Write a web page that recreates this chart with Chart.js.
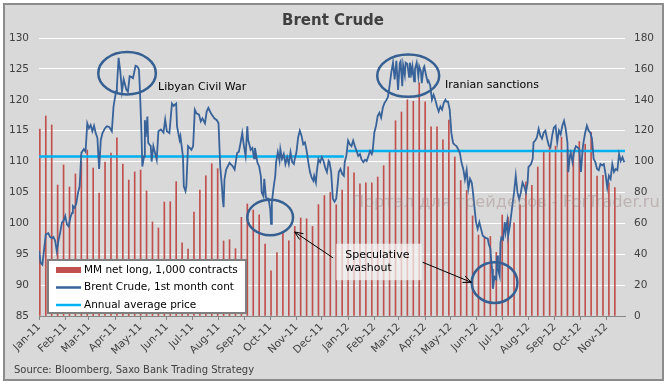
<!DOCTYPE html>
<html>
<head>
<meta charset="utf-8">
<title>Brent Crude</title>
<script src="https://cdn.jsdelivr.net/npm/chart.js@4.4.1/dist/chart.umd.min.js"></script>
<style>
  html, body { margin: 0; padding: 0; background: #fff; }
  #wrap { width: 667px; height: 384px; }
</style>
</head>
<body>
<div id="wrap"><canvas id="brentChart" width="667" height="384"></canvas></div>
<script>
// --- DATA (x values are days since 1 Jan 2011) ---
const monthLabels = ["Jan-11", "Feb-11", "Mar-11", "Apr-11", "May-11", "Jun-11", "Jul-11", "Aug-11",
  "Sep-11", "Oct-11", "Nov-11", "Dec-11", "Jan-12", "Feb-12", "Mar-12", "Apr-12", "May-12", "Jun-12",
  "Jul-12", "Aug-12", "Sep-12", "Oct-12", "Nov-12"];
const monthDays = [0, 31, 59, 90, 120, 151, 181, 212, 243, 273, 304, 334,
  365, 396, 425, 456, 486, 517, 547, 578, 609, 639, 670];

// MM net long, 1,000 contracts (weekly)
const netLongFirstDay = 1;
const netLong = [
  121, 129.5, 123.7, 84.8, 97.8, 83.5, 92, 100, 107.5, 95.8,
  79.6, 99.7, 105.5, 115.3, 98.4, 88, 93.3, 94.5, 81, 60.9,
  57, 73.8, 74, 87, 47.3, 43.4, 67.3, 81.6, 90.8, 98.6,
  95.4, 48.6, 49.4, 43.6, 63.9, 72.5, 68.6, 65.5, 46.6, 29.2,
  41, 54.2, 48.7, 58, 63.5, 63, 58, 72.1, 78, 80,
  72, 81.6, 96.6, 92.7, 85.6, 86.3, 86.2, 90, 97.3, 106.4,
  126.4, 132.1, 140, 139, 151, 138.7, 122.5, 122.5, 114, 126.9,
  103, 87.7, 81.3, 64.8, 52.4, 51.2, 51.5, 41.2, 65.4, 64.1,
  60.4, 72, 86.8, 84.6, 96.5, 106.5, 110.2, 110, 115.8, 107.9,
  106.8, 113, 111.2, 118.9, 90.6, 91.1, 86.3, 83.1
];

// Brent Crude, 1st month cont
const brentDays = [
  0, 2, 4, 6, 8, 11, 13, 15, 17, 19,
  21, 23, 25, 27, 29, 31, 33, 35, 37, 39,
  40, 42, 44, 46, 48, 50, 53, 55, 57, 59,
  61, 63, 65, 67, 69, 71, 73, 75, 78, 80,
  83, 86, 88, 91, 92, 94, 96, 98, 100, 103,
  105, 107, 109, 111, 114, 116, 118, 119, 121, 122,
  124, 125, 126, 128, 129, 132, 133, 135, 137, 139,
  141, 144, 147, 149, 151, 154, 157, 159, 162, 163,
  166, 167, 170, 171, 173, 174, 176, 178, 180, 182,
  184, 186, 189, 191, 193, 196, 198, 200, 203, 204,
  207, 210, 212, 214, 216, 217, 218, 219, 221, 225,
  229, 231, 234, 236, 238, 240, 242, 244, 246, 247,
  250, 252, 254, 255, 258, 260, 262, 263, 265, 266,
  268, 269, 271, 273, 274, 275, 277, 279, 280, 282,
  284, 285, 287, 289, 291, 293, 295, 297, 299, 301,
  302, 304, 306, 308, 310, 312, 314, 316, 318, 320,
  322, 324, 325, 327, 328, 330, 332, 334, 336, 338,
  340, 342, 343, 345, 347, 349, 351, 353, 354, 356,
  358, 360, 361, 363, 365, 367, 369, 371, 373, 375,
  377, 379, 381, 383, 385, 387, 389, 391, 393, 394,
  396, 398, 400, 402, 404, 406, 408, 410, 412, 414,
  416, 418, 420, 422, 424, 426, 427, 429, 430, 432,
  433, 435, 437, 438, 440, 441, 443, 444, 446, 448,
  449, 451, 452, 454, 455, 457, 459, 460, 462, 464,
  466, 468, 470, 472, 474, 476, 478, 480, 481, 483,
  485, 487, 489, 491, 493, 495, 497, 499, 501, 503,
  505, 507, 509, 511, 512, 514, 516, 518, 520, 522,
  524, 526, 528, 530, 531, 533, 534, 535, 536, 537,
  538, 540, 541, 542, 544, 545, 546, 548, 550, 551,
  553, 554, 556, 557, 559, 561, 563, 565, 567, 569,
  571, 573, 575, 577, 578, 581, 583, 584, 586, 588,
  590, 592, 594, 596, 598, 600, 602, 604, 606, 608,
  610, 612, 614, 616, 618, 620, 622, 624, 625, 627,
  628, 630, 632, 634, 636, 638, 640, 642, 643, 645,
  647, 649, 651, 653, 655, 657, 659, 661, 663, 665,
  667, 669, 671, 673, 675, 677, 679, 681, 683, 685,
  687, 689, 691
];
const brentPrice = [
  95.5, 93.6, 93.3, 95.8, 98.2, 98.4, 97.8, 97.6, 97.8, 97.2,
  95.5, 97.2, 98.5, 100.1, 100.4, 101.2, 99.8, 99.5, 100.9, 101.7,
  102.8, 102.5, 103.2, 104.9, 106, 111.4, 112, 111.6, 116.2, 115.4,
  115.9, 114.9, 115.8, 114.6, 113.8, 108.8, 113.5, 114.6, 115.4, 115.7,
  115.6, 114.9, 118.9, 121.4, 122.1, 126.8, 124.6, 121.4, 123.3, 121.7,
  121.3, 123.8, 123.7, 123.5, 125.5, 125.4, 124.9, 122.2, 114.6, 109.2,
  110.8, 116.7, 114, 117.3, 113, 112.5, 110, 112.5, 111.4, 110.3,
  114.9, 115.2, 114.7, 116.8, 114.9, 114.6, 119.4, 119, 119.4, 115.7,
  113.5, 114.1, 110.8, 106, 105.2, 106, 112.5, 112.2, 111.9, 112.5,
  118.4, 117.8, 117.6, 116.5, 117, 116.2, 118.1, 118.7, 117.8, 117.6,
  117, 116.7, 116.2, 109.2, 106, 103.8, 102.6, 107.1, 108.7, 109.8,
  109.2, 108.7, 111.4, 111.6, 113, 114.6, 112.5, 110.9, 115.7, 113.5,
  111.9, 112.2, 110.5, 112.2, 109.8, 109.2, 107.6, 105, 104.4, 107.2,
  104.2, 104, 104, 102.4, 99.9, 103.4, 105.8, 107.7, 109.9, 111.5,
  110.1, 112, 110.4, 111.2, 109.6, 110.7, 109.6, 111.5, 109.9, 109.6,
  110.4, 111.5, 113.9, 115, 114.2, 112.8, 113.1, 111.8, 109.9, 108.3,
  107.4, 106.9, 107.7, 106.6, 108.3, 110.4, 109.9, 110.7, 110.1, 109,
  108.3, 110.1, 109.9, 108.3, 104, 103.5, 104, 106.7, 108.3, 108.8,
  108, 107.7, 109.9, 111, 113.4, 112.8, 112.5, 113.4, 112.5, 111.7,
  110.9, 111.2, 110.3, 109.9, 110.3, 110.1, 110.9, 111.7, 111.2, 111.7,
  114.7, 115.8, 117.4, 117.9, 117.1, 118.7, 119.5, 119.9, 120.4, 122.3,
  124.4, 126, 123.3, 126.3, 121.6, 125.9, 126.2, 122.2, 125.6, 124,
  126, 125.8, 123.7, 126, 124.4, 125.4, 123, 125, 126, 123.8,
  125.4, 124.6, 122.7, 125.1, 125.4, 124, 122.9, 123.1, 122.3, 120,
  120.8, 120, 118.9, 118.1, 118.9, 118.4, 119.5, 120, 119.7, 119.7,
  118.4, 114.6, 113, 112.7, 112.5, 112, 111.4, 109.8, 108.8, 107.1,
  108.6, 105.6, 107.2, 106.6, 105.6, 102.9, 100.2, 99.1, 100.2, 99.1,
  98, 97.8, 97.6, 97.5, 96.7, 95.9, 94, 92.6, 89.4, 90.5,
  91.3, 91, 94.8, 92.6, 91.5, 96.9, 97.7, 97.4, 100.2, 98.6,
  100.4, 98, 99.6, 100.7, 102.9, 105, 107.7, 105, 103.9, 105,
  106.6, 106, 105, 106.6, 109.1, 109.6, 110.4, 113.1, 113.4, 113.9,
  115.3, 114.2, 113.7, 114.7, 115, 113.7, 112.6, 112.3, 114.2, 115.5,
  115.8, 113.1, 115, 114.4, 115.8, 116.6, 115.3, 113.1, 108.3, 110.9,
  111.4, 109.9, 111.7, 112.5, 112.3, 112, 108.3, 112, 113.1, 114.7,
  115.8, 115, 114.7, 113.7, 110.4, 109.9, 108.8, 108.6, 109.6, 109.4,
  109.6, 108, 105.8, 107.7, 107.2, 109.6, 108.3, 108.8, 108.6, 111.2,
  110.1, 110.7, 109.9
];

// Annual average price
const avgYearStart = [0, 365];
const avgYearEnd = [360, 692];
const avgYearPrice = [110.8, 111.7];

// --- CALLOUTS (in data units) ---
const callouts = {
  ellipses: [
    { day: 104, price: 124.3, rxDays: 34, ryPrice: 3.45 },
    { day: 436, price: 123.9, rxDays: 36.6, ryPrice: 3.43 },
    { day: 273, price: 100.95, rxDays: 27, ryPrice: 2.88 },
    { day: 538, price: 90.4, rxDays: 27, ryPrice: 3.29 }
  ],
  labels: [
    { text: "Libyan Civil War", day: 140.6, price: 122.1 },
    { text: "Iranian sanctions", day: 479.4, price: 122.3 }
  ],
  washout: { day0: 351, day1: 452, top: 96.7, bottom: 90.8, lines: ["Speculative", "washout"] },
  arrows: [
    { fromDay: 347.3, fromPrice: 94.4, toDay: 301.9, toPrice: 98.6 },
    { fromDay: 453, fromPrice: 93.7, toDay: 510.6, toPrice: 90.45 }
  ]
};

const FONT = "'DejaVu Sans', Verdana, sans-serif";
const TEXT_GREY = "#404040";
const BAR_RED = "#c0504d";
const LINE_BLUE = "#37629a";
const AVG_CYAN = "#00b0f0";

const brentPoints = brentDays.map((d, i) => ({ x: d, y: brentPrice[i] }));
const netLongPoints = netLong.map((v, i) => ({ x: netLongFirstDay + 7 * i, y: v }));
const avgPoints = [];
avgYearPrice.forEach((p, i) => {
  avgPoints.push({ x: avgYearStart[i], y: p }, { x: avgYearEnd[i], y: p });
  if (i < avgYearPrice.length - 1) avgPoints.push({ x: avgYearEnd[i] + 1, y: null });
});

// --- BACKGROUND, TITLE, LEGEND, CALLOUTS ---
function drawArrow(c, x1, y1, x2, y2) {
  const a = Math.atan2(y2 - y1, x2 - x1);
  c.beginPath();
  c.moveTo(x1, y1);
  c.lineTo(x2, y2);
  c.moveTo(x2 - 9 * Math.cos(a - 0.4), y2 - 9 * Math.sin(a - 0.4));
  c.lineTo(x2, y2);
  c.lineTo(x2 - 9 * Math.cos(a + 0.4), y2 - 9 * Math.sin(a + 0.4));
  c.stroke();
}

const legendOrder = ["MM net long, 1,000 contracts", "Brent Crude, 1st month cont", "Annual average price"];

const decorPlugin = {
  id: "decor",
  beforeDraw(chart) {
    const c = chart.ctx;
    c.save();
    c.fillStyle = "#ffffff";
    c.fillRect(0, 0, chart.width, chart.height);
    c.fillStyle = "#d9d9d9";
    c.fillRect(4, 4, 659, 376);
    c.strokeStyle = "#8c8c8c";
    c.lineWidth = 2;
    c.strokeRect(4, 4, 659, 376);
    c.restore();
  },
  afterDraw(chart) {
    const c = chart.ctx;
    const xs = chart.scales.x, ys = chart.scales.y;
    const area = chart.chartArea;
    c.save();

    // title
    c.fillStyle = TEXT_GREY;
    c.font = "bold 15px " + FONT;
    c.textAlign = "center";
    c.textBaseline = "middle";
    c.fillText("Brent Crude", 333, 21);

    // source
    c.font = "10px " + FONT;
    c.textAlign = "left";
    c.fillText("Source: Bloomberg, Saxo Bank Trading Strategy", 14, 370);

    // watermark
    c.font = "16px " + FONT;
    const wmText = "Портал для трейдеров - ForTrader.ru";
    const wmSize = 16 * 308 / c.measureText(wmText).width;
    c.font = wmSize.toFixed(2) + "px " + FONT;
    c.fillStyle = "rgba(150, 125, 125, 0.4)";
    c.fillText(wmText, 352, 203);

    // ellipses
    c.strokeStyle = "#365f92";
    c.lineWidth = 2.5;
    callouts.ellipses.forEach(e => {
      const cx = xs.getPixelForValue(e.day), cy = ys.getPixelForValue(e.price);
      const rx = xs.getPixelForValue(e.day + e.rxDays) - cx;
      const ry = cy - ys.getPixelForValue(e.price + e.ryPrice);
      c.beginPath();
      c.ellipse(cx, cy, rx, ry, 0, 0, Math.PI * 2);
      c.stroke();
    });

    // labels
    c.fillStyle = "#000";
    c.font = "11px " + FONT;
    callouts.labels.forEach(l => {
      c.fillText(l.text, xs.getPixelForValue(l.day), ys.getPixelForValue(l.price));
    });

    // washout box
    const w = callouts.washout;
    const bx0 = xs.getPixelForValue(w.day0), bx1 = xs.getPixelForValue(w.day1);
    const by0 = ys.getPixelForValue(w.top), by1 = ys.getPixelForValue(w.bottom);
    c.fillStyle = "rgba(245, 245, 245, 0.72)";
    c.fillRect(bx0, by0, bx1 - bx0, by1 - by0);
    c.fillStyle = "#000";
    c.fillText(w.lines[0], bx0 + 9, by0 + 11);
    c.fillText(w.lines[1], bx0 + 9, by0 + 24);

    // arrows
    c.strokeStyle = "#000";
    c.lineWidth = 1;
    callouts.arrows.forEach(a => {
      drawArrow(c, xs.getPixelForValue(a.fromDay), ys.getPixelForValue(a.fromPrice),
        xs.getPixelForValue(a.toDay), ys.getPixelForValue(a.toPrice));
    });

    // legend
    const lx = area.left + 9, ly = area.bottom - 56;
    c.fillStyle = "#ffffff";
    c.fillRect(lx, ly, 198, 53);
    c.strokeStyle = "#7f7f7f";
    c.lineWidth = 2;
    c.strokeRect(lx, ly, 198, 53);
    c.font = "10.5px " + FONT;
    legendOrder.forEach((name, i) => {
      const ds = chart.data.datasets.find(d => d.label === name);
      const yy = ly + 10 + i * 17.5;
      if (ds.type === "bar") {
        c.fillStyle = BAR_RED;
        c.fillRect(lx + 8, yy - 3, 25, 6);
      } else {
        c.strokeStyle = ds.borderColor;
        c.lineWidth = 2.5;
        c.beginPath();
        c.moveTo(lx + 8, yy);
        c.lineTo(lx + 33, yy);
        c.stroke();
      }
      c.fillStyle = "#000";
      c.fillText(ds.label, lx + 36, yy);
    });

    c.restore();
  }
};

// --- CHART.JS SETUP ---
const ctx = document.getElementById("brentChart").getContext("2d");
const brentChart = new Chart(ctx, {
  type: "bar",
  data: {
    datasets: [
      {
        type: "line",
        label: "Brent Crude, 1st month cont",
        data: brentPoints,
        yAxisID: "y",
        borderColor: LINE_BLUE,
        borderWidth: 1.8,
        pointRadius: 0,
        tension: 0,
        order: 1
      },
      {
        type: "line",
        label: "Annual average price",
        data: avgPoints,
        yAxisID: "y",
        borderColor: AVG_CYAN,
        borderWidth: 2.5,
        pointRadius: 0,
        spanGaps: false,
        order: 2
      },
      {
        type: "bar",
        label: "MM net long, 1,000 contracts",
        data: netLongPoints,
        yAxisID: "y2",
        backgroundColor: BAR_RED,
        barThickness: 1,
        order: 3
      }
    ]
  },
  options: {
    responsive: false,
    animation: false,
    devicePixelRatio: 1,
    layout: { padding: { top: 38, left: 0, right: 0, bottom: 0 } },
    plugins: { legend: { display: false }, tooltip: { enabled: false }, title: { display: false } },
    scales: {
      x: {
        type: "linear",
        min: 0,
        max: 692,
        offset: false,
        afterBuildTicks: s => { s.ticks = monthDays.map(v => ({ value: v })); },
        afterFit: s => { s.height = 68; },
        ticks: {
          autoSkip: false,
          maxRotation: 45,
          minRotation: 45,
          padding: 1,
          color: TEXT_GREY,
          font: { family: FONT, size: 10.5 },
          callback: v => monthLabels[monthDays.indexOf(v)]
        },
        grid: { drawOnChartArea: false, offset: false, color: "#868686", tickLength: 4 },
        border: { color: "#868686", width: 1 }
      },
      y: {
        position: "left",
        min: 85,
        max: 130,
        afterFit: s => { s.width = 39; },
        ticks: { stepSize: 5, padding: 10, color: TEXT_GREY, font: { family: FONT, size: 10.5 } },
        grid: { color: "#ffffff", lineWidth: 1, drawTicks: false },
        border: { display: false }
      },
      y2: {
        position: "right",
        min: 0,
        max: 180,
        afterFit: s => { s.width = 42; },
        ticks: { stepSize: 20, padding: 9, color: TEXT_GREY, font: { family: FONT, size: 10.5 } },
        grid: { drawOnChartArea: false, drawTicks: false },
        border: { display: false }
      }
    }
  },
  plugins: [decorPlugin]
});
</script>
</body>
</html>
